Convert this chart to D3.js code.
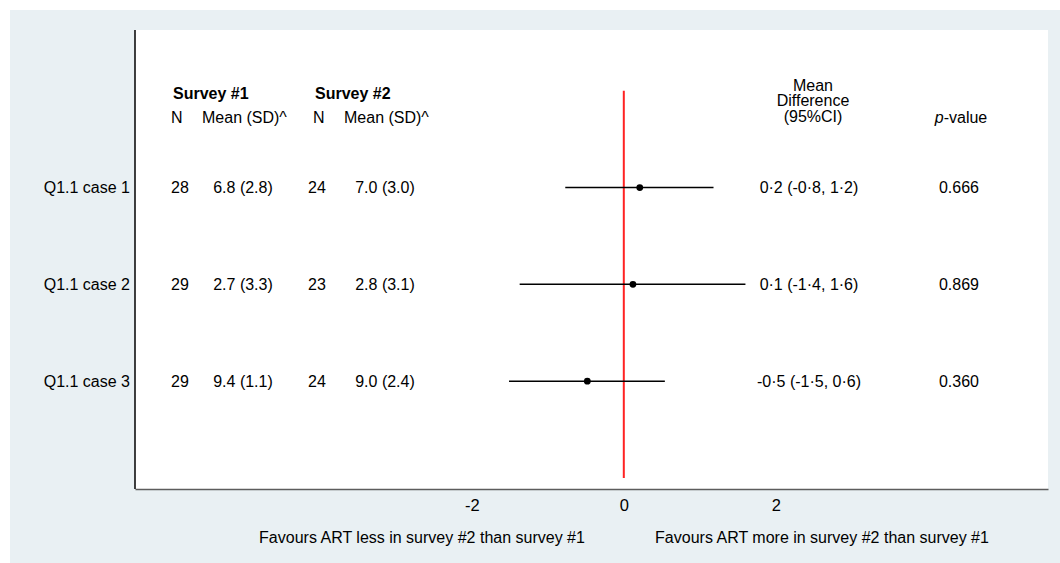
<!DOCTYPE html>
<html>
<head>
<meta charset="utf-8">
<script src="https://cdn.jsdelivr.net/npm/d3@7"></script>
<style>
  body { margin: 0; background: #ffffff; }
  text { font-family: "Liberation Sans", Arial, sans-serif; fill: #000; }
</style>
</head>
<body>
<div id="chart"></div>
<script>
var caseLabels = ["Q1.1 case 1", "Q1.1 case 2", "Q1.1 case 3"];
var survey1N = [28, 29, 29];
var survey1Mean = ["6.8 (2.8)", "2.7 (3.3)", "9.4 (1.1)"];
var survey2N = [24, 23, 24];
var survey2Mean = ["7.0 (3.0)", "2.8 (3.1)", "9.0 (2.4)"];
var meanDiff = [0.21, 0.12, -0.48];
var ciLow = [-0.77, -1.37, -1.51];
var ciHigh = [1.18, 1.60, 0.54];
var diffLabels = ["0\u00b72 (-0\u00b78, 1\u00b72)", "0\u00b71 (-1\u00b74, 1\u00b76)", "-0\u00b75 (-1\u00b75, 0\u00b76)"];
var pValues = ["0.666", "0.869", "0.360"];
var xTicks = [-2, 0, 2];
var footLabels = ["Favours ART less in survey #2 than survey #1", "Favours ART more in survey #2 than survey #1"];

var width = 1060, height = 563;
var plot = {left: 135, right: 1048, top: 30, bottom: 489};
var fontSize = "16px";

var svg = d3.select("#chart").append("svg")
    .attr("width", width)
    .attr("height", height);

// outer graph region
svg.append("rect")
    .attr("x", 10).attr("y", 10)
    .attr("width", width - 10).attr("height", height - 10)
    .style("fill", "#e9f0f3");

svg.append("rect")
    .attr("x", plot.left).attr("y", plot.top)
    .attr("width", plot.right - plot.left).attr("height", plot.bottom - plot.top)
    .style("fill", "#ffffff");

var x = d3.scaleLinear().domain([-6.43, 5.58]).range([plot.left, plot.right]);
var y = d3.scaleLinear().domain([0, 4]).range([90.7, 478]);

// axes
var xAxis = d3.axisBottom(x).tickValues(xTicks).tickSize(0).tickPadding(10)
    .tickFormat(function(d){ return String(d); });
var gx = svg.append("g")
    .attr("transform", "translate(0," + plot.bottom + ")")
    .call(xAxis);
gx.select(".domain").attr("stroke", "#5c5c5c").attr("stroke-width", 1.6);
gx.selectAll("text").style("font-size", "16.5px").attr("font-family", null);

svg.append("line")
    .attr("x1", plot.left).attr("x2", plot.left)
    .attr("y1", plot.top).attr("y2", plot.bottom)
    .attr("stroke", "#000").attr("stroke-width", 1.5);

// line of no difference
svg.append("line")
    .attr("x1", x(0)).attr("x2", x(0))
    .attr("y1", y(0)).attr("y2", y(4))
    .attr("stroke", "#ff2323").attr("stroke-width", 2);

// confidence intervals
var rows = d3.range(caseLabels.length);
svg.selectAll(".ci")
    .data(rows)
    .enter().append("line")
    .attr("class", "ci")
    .attr("x1", function(i){ return x(ciLow[i]); })
    .attr("x2", function(i){ return x(ciHigh[i]); })
    .attr("y1", function(i){ return y(i + 1); })
    .attr("y2", function(i){ return y(i + 1); })
    .attr("stroke", "#000").attr("stroke-width", 1.5);

svg.selectAll(".pt")
    .data(rows)
    .enter().append("circle")
    .attr("class", "pt")
    .attr("cx", function(i){ return x(meanDiff[i]); })
    .attr("cy", function(i){ return y(i + 1); })
    .attr("r", 3.4)
    .style("fill", "#000");

// table columns
function column(values, xpos, anchor){
    svg.selectAll(null)
        .data(values)
        .enter().append("text")
        .attr("x", xpos)
        .attr("y", function(d, i){ return y(i + 1); })
        .attr("dy", "0.35em")
        .attr("text-anchor", anchor)
        .style("font-size", fontSize)
        .text(function(d){ return d; });
}
column(caseLabels, 130, "end");
column(survey1N, 180, "middle");
column(survey1Mean, 243, "middle");
column(survey2N, 317, "middle");
column(survey2Mean, 385, "middle");
column(diffLabels, 809, "middle");
column(pValues, 959, "middle");

// headers
function label(txt, xpos, ypos, anchor){
    return svg.append("text")
        .attr("x", xpos).attr("y", ypos)
        .attr("dy", "0.35em")
        .attr("text-anchor", anchor)
        .style("font-size", fontSize)
        .text(txt);
}
label("Survey #1", 173, 93, "start").style("font-weight", "bold");
label("Survey #2", 315, 93, "start").style("font-weight", "bold");
label("N", 171, 117, "start");
label("Mean (SD)^", 202, 117, "start");
label("N", 313, 117, "start");
label("Mean (SD)^", 344, 117, "start");
label("Mean", 813, 85, "middle");
label("Difference", 813, 100.5, "middle");
label("(95%CI)", 813, 116.5, "middle");
var pv = label("", 961, 117, "middle");
pv.append("tspan").style("font-style", "italic").text("p");
pv.append("tspan").text("-value");

label(footLabels[0], 422, 537, "middle");
label(footLabels[1], 822, 537, "middle");
</script>
</body>
</html>
